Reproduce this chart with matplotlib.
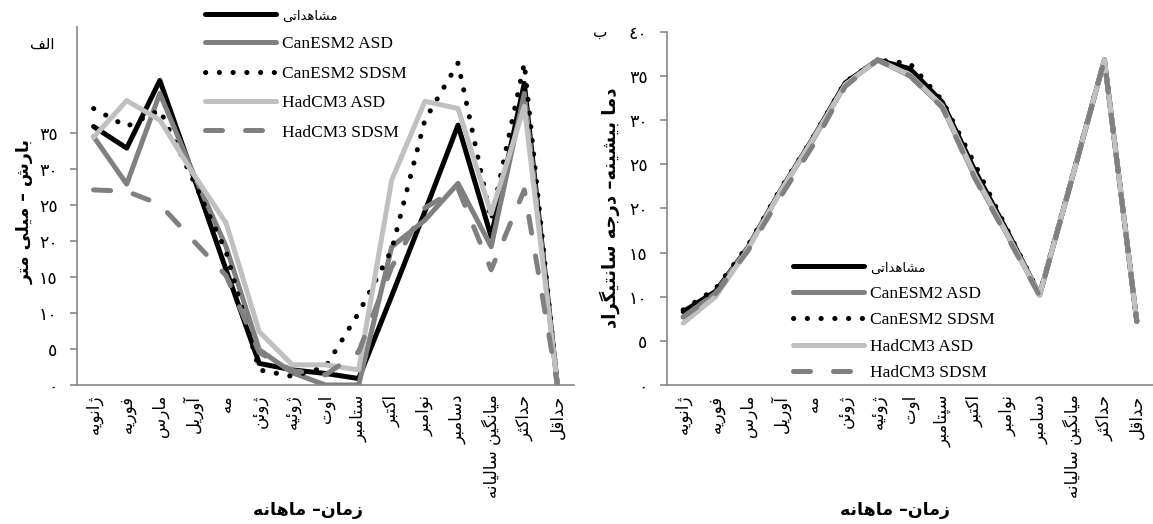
import matplotlib
matplotlib.use('Agg')
import matplotlib.pyplot as plt

# Persian letters -> presentation forms (isolated, final, initial, medial)
FORMS = {
    'ا': (0xFE8D, 0xFE8E, None, None), 'آ': (0xFE81, 0xFE82, None, None),
    'ب': (0xFE8F, 0xFE90, 0xFE91, 0xFE92), 'پ': (0xFB56, 0xFB57, 0xFB58, 0xFB59),
    'ت': (0xFE95, 0xFE96, 0xFE97, 0xFE98), 'ث': (0xFE99, 0xFE9A, 0xFE9B, 0xFE9C),
    'ج': (0xFE9D, 0xFE9E, 0xFE9F, 0xFEA0), 'ح': (0xFEA1, 0xFEA2, 0xFEA3, 0xFEA4),
    'خ': (0xFEA5, 0xFEA6, 0xFEA7, 0xFEA8), 'د': (0xFEA9, 0xFEAA, None, None),
    'ذ': (0xFEAB, 0xFEAC, None, None), 'ر': (0xFEAD, 0xFEAE, None, None),
    'ز': (0xFEAF, 0xFEB0, None, None), 'ژ': (0xFB8A, 0xFB8B, None, None),
    'س': (0xFEB1, 0xFEB2, 0xFEB3, 0xFEB4), 'ش': (0xFEB5, 0xFEB6, 0xFEB7, 0xFEB8),
    'ع': (0xFEC9, 0xFECA, 0xFECB, 0xFECC), 'ف': (0xFED1, 0xFED2, 0xFED3, 0xFED4),
    'ق': (0xFED5, 0xFED6, 0xFED7, 0xFED8), 'ک': (0xFB8E, 0xFB8F, 0xFB90, 0xFB91),
    'گ': (0xFB92, 0xFB93, 0xFB94, 0xFB95), 'ل': (0xFEDD, 0xFEDE, 0xFEDF, 0xFEE0),
    'م': (0xFEE1, 0xFEE2, 0xFEE3, 0xFEE4), 'ن': (0xFEE5, 0xFEE6, 0xFEE7, 0xFEE8),
    'ه': (0xFEE9, 0xFEEA, 0xFEEB, 0xFEEC), 'و': (0xFEED, 0xFEEE, None, None),
    'ئ': (0xFE89, 0xFE8A, 0xFE8B, 0xFE8C), 'ی': (0xFBFC, 0xFBFD, 0xFBFE, 0xFBFF),
}


def fa(text):
    out = []
    for i, ch in enumerate(text):
        if ch not in FORMS:
            out.append(ch)
            continue
        iso, fin, ini, med = FORMS[ch]
        prev = text[i - 1] if i > 0 else ''
        nxt = text[i + 1] if i + 1 < len(text) else ''
        join_prev = prev in FORMS and FORMS[prev][2] is not None
        join_next = nxt in FORMS and ini is not None
        if join_prev and join_next:
            code = med
        elif join_prev:
            code = fin
        elif join_next:
            code = ini
        else:
            code = iso
        out.append(chr(code))
    return ''.join(reversed(out))


def fa_num(n):
    return str(n).translate(str.maketrans('0123456789', '٠١٢٣٤٥٦٧٨٩'))


months_left = ['ژانویه', 'فوریه', 'مارس', 'آوریل', 'مه', 'ژوئن', 'ژوئیه', 'اوت', 'ستامبر',
               'اکتبر', 'نوامبر', 'دسامبر', 'میانگین سالیانه', 'حداکثر', 'حداقل']
months_right = ['ژانویه', 'فوریه', 'مارس', 'آوریل', 'مه', 'ژوئن', 'ژوئیه', 'اوت', 'سپتامبر',
                'اکتبر', 'نوامبر', 'دسامبر', 'میانگین سالیانه', 'حداکثر', 'حداقل']
series_names = ['مشاهداتی', 'CanESM2 ASD', 'CanESM2 SDSM', 'HadCM3 ASD', 'HadCM3 SDSM']

# precipitation (mm)
obs_p = [35.9, 32.9, 42.3, 29.2, 16.0, 3.0, 2.1, 1.6, 0.9, 12.4, 24.1, 36.1, 20.6, 41.9, 0]
can_asd_p = [34.5, 27.9, 40.5, 29.5, 19.2, 4.9, 1.7, 0.0, 0.0, 19.2, 22.9, 28.0, 19.2, 40.5, 0]
can_sdsm_p = [38.4, 35.9, 38.2, 28.5, 18.5, 2.1, 1.2, 2.5, 10.0, 18.8, 36.8, 44.7, 22.9, 44.7, 0]
had_asd_p = [34.4, 39.5, 36.8, 29.4, 22.5, 7.4, 2.8, 2.8, 2.1, 28.5, 39.4, 38.4, 23.8, 38.7, 0]
had_sdsm_p = [27.1, 26.9, 25.1, 20.1, 15.2, 4.5, 2.0, 1.4, 4.6, 16.4, 24.6, 27.3, 16.0, 27.1, 0]

# max temperature (C)
obs_t = [8.3, 10.6, 15.6, 22.0, 27.9, 34.2, 36.8, 35.8, 32.0, 24.3, 17.4, 10.2, 23.4, 36.8, 7.2]
can_asd_t = [7.7, 10.4, 15.6, 21.9, 27.7, 34.0, 36.8, 35.0, 31.5, 23.6, 17.0, 10.2, 23.4, 36.8, 7.2]
can_sdsm_t = [8.5, 10.9, 15.8, 22.2, 28.0, 34.3, 36.8, 36.4, 32.2, 25.0, 17.6, 10.3, 23.5, 36.9, 7.2]
had_asd_t = [7.0, 10.0, 15.4, 21.9, 27.8, 34.0, 36.8, 35.1, 31.6, 23.8, 17.1, 10.2, 23.4, 36.8, 7.2]
had_sdsm_t = [7.7, 10.3, 15.2, 21.3, 27.1, 33.8, 36.8, 35.0, 31.4, 23.4, 16.8, 10.1, 23.3, 36.8, 7.2]

styles = [
    dict(color='black', linestyle='-'),
    dict(color='#808080', linestyle='-'),
    dict(color='black', linestyle=(0, (0.05, 2.7))),
    dict(color='#c0c0c0', linestyle='-'),
    dict(color='#808080', linestyle=(0, (3.4, 4.6))),
]

W, H = 1153, 524
fig = plt.figure(figsize=(W / 100, H / 100), dpi=100)
ax1 = fig.add_axes([77 / W, 1 - 385 / H, 497 / W, 358 / H])
ax2 = fig.add_axes([667 / W, 1 - 385 / H, 486 / W, 353.3 / H])

fa_font = 'DejaVu Sans'
axis_gray = '#868686'


def draw(ax, data, labels, ymax, yticks):
    x = list(range(len(labels)))
    for vals, name, st in zip(data, series_names, styles):
        ax.plot(x, vals, label=name, lw=3.6, solid_capstyle='round',
                dash_capstyle='round', solid_joinstyle='round', **st)
    ax.set_xlim(-0.5, len(labels) - 0.5)
    ax.set_ylim(0, ymax)
    ax.set_xticks(x)
    ax.set_xticklabels([fa(s) for s in labels], rotation=90, family=fa_font,
                       fontsize=12, va='top', ha='center')
    ax.set_yticks(yticks)
    ax.set_yticklabels([fa_num(v) for v in yticks], family=fa_font, fontsize=12.5)
    for side in ['top', 'right']:
        ax.spines[side].set_visible(False)
    for side in ['left', 'bottom']:
        ax.spines[side].set_color(axis_gray)
        ax.spines[side].set_linewidth(1.2)
    ax.tick_params(axis='x', length=0, pad=7)
    ax.tick_params(axis='y', length=5, width=1.2, color=axis_gray, pad=9)


draw(ax1, [obs_p, can_asd_p, can_sdsm_p, had_asd_p, had_sdsm_p], months_left,
     (385 - 27) / 7.2, [0, 5, 10, 15, 20, 25, 30, 35])
draw(ax2, [obs_t, can_asd_t, can_sdsm_t, had_asd_t, had_sdsm_t], months_right,
     40, [0, 5, 10, 15, 20, 25, 30, 35, 40])


def add_legend(ax, x0, ytop, spacing):
    leg = ax.legend(loc='upper left', bbox_to_anchor=(x0 / W, 1 - ytop / H),
                    bbox_transform=fig.transFigure, frameon=False, handlelength=4.1,
                    handletextpad=0.35, labelspacing=spacing, borderpad=0, borderaxespad=0,
                    prop={'family': 'Liberation Serif', 'size': 12.5})
    texts = leg.get_texts()
    texts[0].set_text(fa(series_names[0]))
    texts[0].set_family(fa_font)
    texts[0].set_fontsize(9.5)
    return leg


add_legend(ax1, 205, 8, 0.76)
add_legend(ax2, 793, 260, 0.6)

fig.text(25 / W, 1 - 212 / H, fa('بارش – میلی متر'), rotation=90, ha='center', va='center',
         family=fa_font, fontsize=12.5, fontweight='bold')
fig.text(610 / W, 1 - 208 / H, fa('دما بیشینه– درجه سانتیگراد'), rotation=90, ha='center',
         va='center', family=fa_font, fontsize=13, fontweight='bold')
fig.text(308 / W, 1 - 510 / H, fa('زمان– ماهانه'), ha='center', va='center',
         family=fa_font, fontsize=12.5, fontweight='bold')
fig.text(895 / W, 1 - 510 / H, fa('زمان– ماهانه'), ha='center', va='center',
         family=fa_font, fontsize=12.5, fontweight='bold')
fig.text(42 / W, 1 - 44 / H, fa('الف'), ha='center', va='center', family=fa_font, fontsize=11)
fig.text(600 / W, 1 - 32 / H, fa('ب'), ha='center', va='center', family=fa_font, fontsize=11)

fig.savefig('out.png', dpi=100)
